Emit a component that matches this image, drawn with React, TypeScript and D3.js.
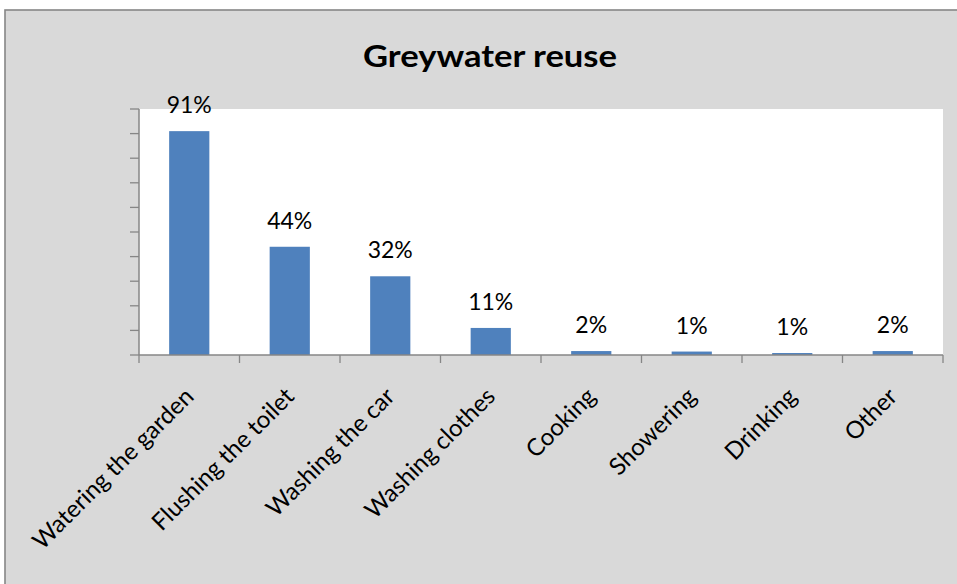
import React from "react";
import * as d3 from "d3";

const categories = [
  "Watering the garden",
  "Flushing the toilet",
  "Washing the car",
  "Washing clothes",
  "Cooking",
  "Showering",
  "Drinking",
  "Other",
];
const values = [91, 44, 32, 11, 1.6, 1.4, 0.8, 1.6];
const yTicks = [0, 10, 20, 30, 40, 50, 60, 70, 80, 90, 100];
const title = "Greywater reuse";

const W = 957;
const H = 584;
const plot = { left: 139, right: 943, top: 109, bottom: 355 };
const FONT = "Lato, 'Open Sans', sans-serif";
const AXIS = "#868686";

export default function App() {
  const x = d3
    .scaleBand<string>()
    .domain(categories)
    .range([plot.left, plot.right])
    .paddingInner(0)
    .paddingOuter(0);
  const y = d3.scaleLinear().domain([0, 100]).range([plot.bottom, plot.top]);
  const step = x.step();
  const barW = step * 0.4;

  return (
    <svg
      width={W}
      height={H}
      style={{ position: "absolute", left: 0, top: 0, display: "block" }}
    >
      <rect x={0} y={0} width={W} height={H} fill="#ffffff" />
      <rect x={5} y={10} width={W + 10} height={H + 10} fill="#d9d9d9" stroke={AXIS} strokeWidth={1.6} />
      <text
        x={490}
        y={66.5}
        textAnchor="middle"
        fontFamily={FONT}
        fontWeight={700}
        fontSize={31}
        textLength={254}
        lengthAdjust="spacingAndGlyphs"
        fill="#000"
      >
        {title}
      </text>
      <rect
        x={plot.left}
        y={plot.top}
        width={plot.right - plot.left}
        height={plot.bottom - plot.top}
        fill="#ffffff"
      />
      {categories.map((c, i) => {
        const cx = (x(c) as number) + step / 2;
        const top = y(values[i]);
        return (
          <g key={c}>
            <rect
              x={cx - barW / 2}
              y={top}
              width={barW}
              height={plot.bottom - top}
              fill="#4f81bd"
            />
            <text
              x={cx}
              y={top - 18}
              textAnchor="middle"
              fontFamily={FONT}
              fontSize={23}
              fill="#000"
            >
              {Math.round(values[i]) + "%"}
            </text>
            <text
              transform={`translate(${cx},${392}) rotate(-45)`}
              textAnchor="end"
              dy="0.35em"
              fontFamily={FONT}
              fontSize={24}
              fill="#000"
            >
              {c}
            </text>
          </g>
        );
      })}
      {/* y axis */}
      <line x1={plot.left} x2={plot.left} y1={plot.top} y2={plot.bottom} stroke={AXIS} strokeWidth={1.5} />
      {yTicks.map((t) => (
        <line key={t} x1={plot.left - 9} x2={plot.left} y1={y(t)} y2={y(t)} stroke={AXIS} strokeWidth={1.3} />
      ))}
      {/* x axis */}
      <line x1={plot.left} x2={plot.right} y1={plot.bottom} y2={plot.bottom} stroke={AXIS} strokeWidth={1.5} />
      {[...categories.map((c) => x(c) as number), plot.right].map((px, i) => (
        <line key={i} x1={px} x2={px} y1={plot.bottom} y2={plot.bottom + 8} stroke={AXIS} strokeWidth={1.3} />
      ))}
    </svg>
  );
}
